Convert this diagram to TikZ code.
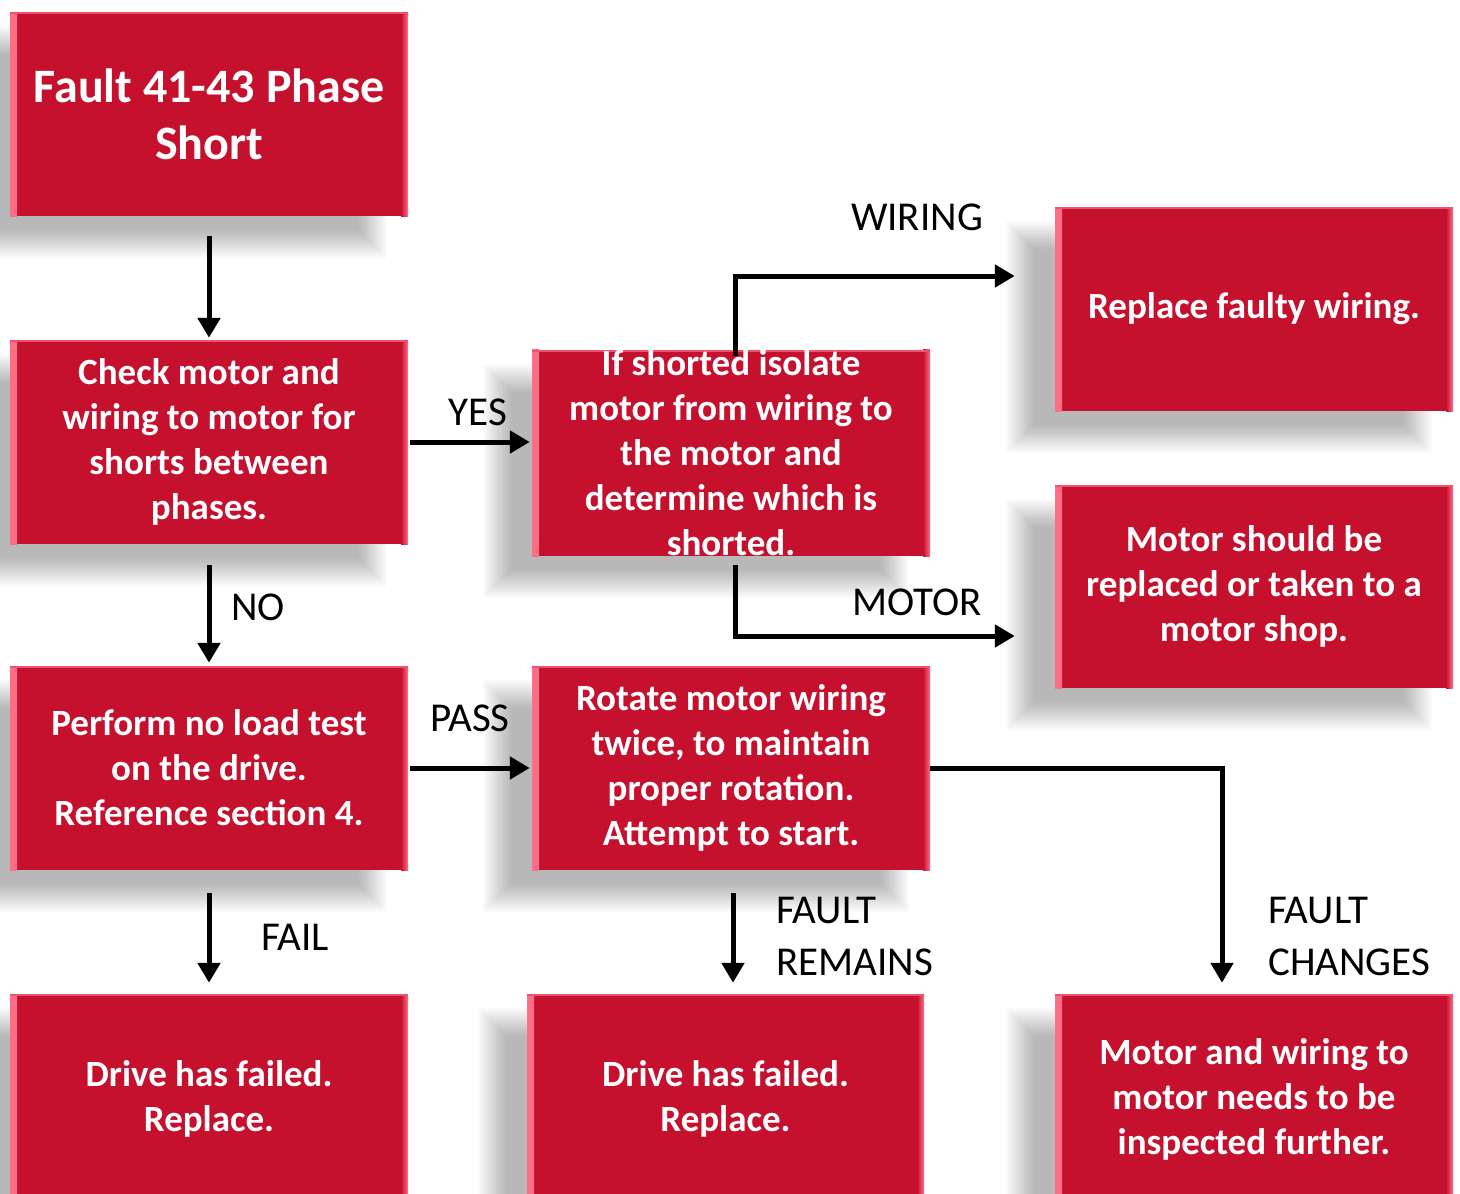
\documentclass[tikz,border=0pt]{standalone}
\usepackage{fontspec}
\setmainfont{Carlito}
\usetikzlibrary{arrows.meta}

\definecolor{boxred}{RGB}{197,16,46}
\definecolor{bevelpink}{RGB}{255,110,135}

\pgfdeclarelayer{paper}
\pgfdeclarelayer{shade}
\pgfsetlayers{paper,shade,main}

\tikzset{
  stepbox/.style={
    rectangle, fill=boxred, text=white, align=center, inner sep=0pt,
    minimum width=398pt, minimum height=204pt,
    font=\bfseries\fontsize{37pt}{45pt}\selectfont,
    path picture={
      \shade[left color=bevelpink, right color=boxred]
        (path picture bounding box.south west)
        rectangle ([xshift=7pt]path picture bounding box.north west);
      \shade[left color=boxred, right color=bevelpink]
        ([xshift=-7pt]path picture bounding box.south east)
        rectangle (path picture bounding box.north east);
      \fill[bevelpink!70!boxred]
        ([yshift=-2pt]path picture bounding box.north west)
        rectangle (path picture bounding box.north east);
    }
  },
  flow/.style={line width=5pt, -{Triangle[length=20pt,width=22pt]}},
  lbl/.style={font=\fontsize{41pt}{52pt}\selectfont, inner sep=0pt}
}

% soft drop shadow, down and to the left of a box: stacked, faint rectangles
\newcommand\castshadow[1]{%
  \begin{pgfonlayer}{shade}
    \foreach \r in {0,2,...,28}
      \fill[black, opacity=0.021]
        ([shift={(-49+\r,14+\r)}]#1.north west)
        rectangle ([shift={(-21-\r,42-\r)}]#1.south east);
  \end{pgfonlayer}}

\begin{document}
\begin{tikzpicture}[x=1pt, y=-1pt]
  \useasboundingbox (0,0) rectangle (1460,1194);
  \begin{pgfonlayer}{paper}
    \fill[white] (0,0) rectangle (1460,1194);
  \end{pgfonlayer}

  % left column
  \node[stepbox, font=\bfseries\fontsize{48pt}{57pt}\selectfont] (start) at (209,114)
    {Fault 41-43 Phase\\Short};
  \node[stepbox] (check) at (209,442)
    {Check motor and\\wiring to motor for\\shorts between\\phases.};
  \node[stepbox] (noload) at (209,768)
    {Perform no load test\\on the drive.\\Reference section 4.};
  \node[stepbox, minimum height=210pt] (failA) at (209,1099)
    {Drive has failed.\\Replace.};

  % middle column
  \node[stepbox, minimum height=202pt] (isolate) at (731,453)
    {If shorted isolate\\motor from wiring to\\the motor and\\determine which is\\shorted.};
  \node[stepbox] (rotate) at (731,768)
    {Rotate motor wiring\\twice, to maintain\\proper rotation.\\Attempt to start.};
  \node[stepbox, minimum width=397pt, minimum height=210pt] (failB) at (725.5,1099)
    {Drive has failed.\\Replace.};

  % right column
  \node[stepbox] (wiring) at (1254,309)
    {Replace faulty wiring.};
  \node[stepbox, minimum height=203pt] (motor) at (1254,586.5)
    {Motor should be\\replaced or taken to a\\motor shop.};
  \node[stepbox, minimum height=210pt] (inspect) at (1254,1099)
    {Motor and wiring to\\motor needs to be\\inspected further.};

  \foreach \b in {start,check,noload,failA,isolate,rotate,failB,wiring,motor,inspect}
    {\castshadow{\b}}

  % bend points of the elbow connectors
  \coordinate (wbend) at (735,276);
  \coordinate (mbend) at (735,636);
  \coordinate (frx) at (733,0);
  \coordinate (fcbend) at (1222,768);

  % connectors
  \draw[flow, shorten <=20pt, shorten >=2pt] (start.south) -- (check.north);
  \draw[flow, shorten <=2pt, shorten >=2pt] (check.east) -- (check.east -| isolate.west);
  \draw[flow, shorten <=21pt, shorten >=3pt] (check.south) -- (noload.north);
  \draw[flow, shorten <=2pt, shorten >=2pt] (noload.east) -- (noload.east -| rotate.west);
  \draw[flow, shorten <=23pt, shorten >=11pt] (noload.south) -- (failA.north);
  \draw[flow, shorten <=-6pt, shorten >=40pt] (isolate.north -| wbend) -- (wbend) -- (wbend -| wiring.west);
  \draw[flow, shorten <=9pt, shorten >=40pt] (isolate.south -| mbend) -- (mbend) -- (mbend -| motor.west);
  \draw[flow, shorten <=23pt, shorten >=11pt] (rotate.south -| frx) -- (failB.north -| frx);
  \draw[flow, shorten >=11pt] (rotate.east) -- (fcbend) -- (fcbend |- inspect.north);

  % connector labels
  \node[lbl] (lyes) at (478,412) {YES};
  \node[lbl] (lno) at (258,607) {NO};
  \node[lbl] (lpass) at (470,718) {PASS};
  \node[lbl] (lfail) at (295,937) {FAIL};
  \node[lbl] (lwiring) at (917,217) {WIRING};
  \node[lbl] (lmotor) at (917,602) {MOTOR};
  \node[lbl, anchor=west, align=left] (lremain) at (776,936) {FAULT\\REMAINS};
  \node[lbl, anchor=west, align=left] (lchange) at (1268,936) {FAULT\\CHANGES};
\end{tikzpicture}
\end{document}
